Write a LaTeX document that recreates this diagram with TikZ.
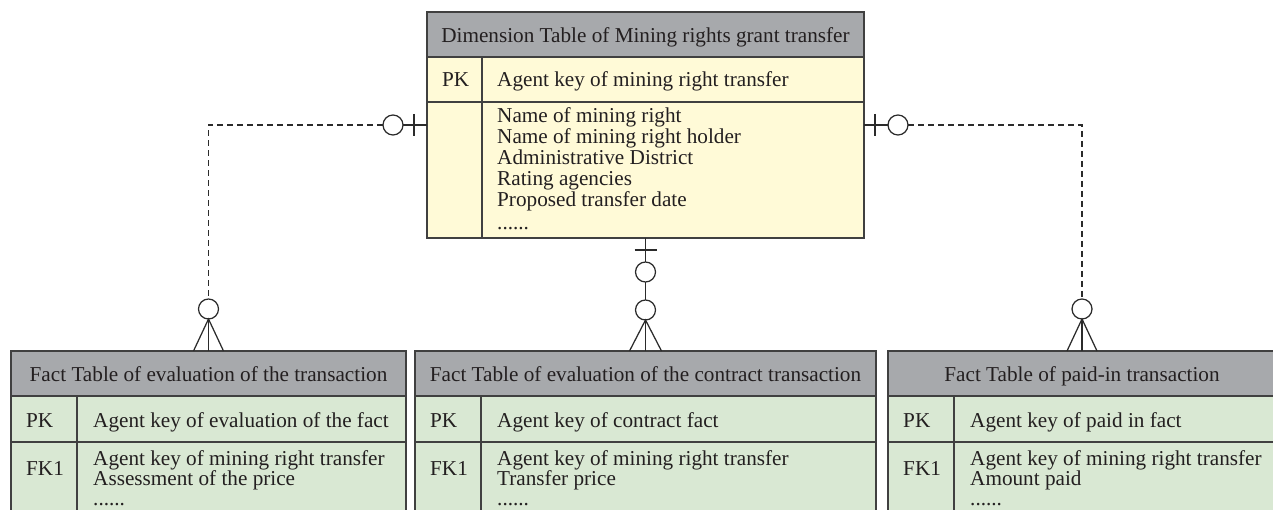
\documentclass[tikz,border=0pt]{standalone}
\usepackage{fontspec}
\setmainfont{Liberation Serif}
\usetikzlibrary{calc,backgrounds}
\definecolor{hdr}{HTML}{A7A9AC}
\definecolor{dimfill}{HTML}{FFFAD7}
\definecolor{factfill}{HTML}{D9E8D3}
\definecolor{bord}{HTML}{404040}
\definecolor{ink}{HTML}{231F20}
\definecolor{lnk}{HTML}{2B2B2B}
\begin{document}
\begin{tikzpicture}[x=1pt,y=-1pt,
  tbl/.style={draw=bord, line width=1.8pt, anchor=north west, inner sep=0pt, outer sep=0pt},
  rule/.style={draw=bord, line width=1.6pt},
  txt/.style={text=ink, font=\fontsize{21.2}{21}\selectfont, inner sep=0pt, anchor=base west},
  ttl/.style={text=ink, font=\fontsize{21.2}{21}\selectfont, inner sep=0pt, anchor=base},
  conn/.style={draw=lnk, line width=1.25pt},
  dashedconn/.style={draw=lnk, line width=1.25pt, dash pattern=on 6pt off 4pt}]
\path[use as bounding box, clip] (0,0) rectangle (1273,510);

% ---------- Dimension table ----------
\node[tbl, minimum width=437pt, minimum height=226pt] (dim) at (427,12) {};
\begin{scope}[on background layer]
  \fill[dimfill] (dim.north west) rectangle (dim.south east);
  \fill[hdr] (dim.north west) rectangle ($(dim.north east)+(0,45)$);
\end{scope}
\draw[rule] ($(dim.north west)+(0,45)$) -- ($(dim.north east)+(0,45)$);
\draw[rule] ($(dim.north west)+(0,90)$) -- ($(dim.north east)+(0,90)$);
\draw[rule] ($(dim.north west)+(55,45)$) -- ($(dim.south west)+(55,0)$);
\node[ttl] (dimt) at ($(dim.north)+(0,31)$) {Dimension Table of Mining rights grant transfer};
\node[txt] (dimpk) at ($(dim.north west)+(15,75)$) {PK};
\node[txt] (dimk) at ($(dim.north west)+(70,75)$) {Agent key of mining right transfer};
\foreach \t [count=\i] in {Name of mining right, Name of mining right holder, Administrative District, Rating agencies, Proposed transfer date}
  \node[txt] (dima\i) at ($(dim.north west)+(70,90+21*\i)$) {\t};
\node[txt] (dimdots) at ($(dim.north west)+(70,218)$) {......};

% ---------- Fact tables ----------
\foreach \n/\x/\w in {f1/11/395, f2/415/461, f3/888/388} {
  \node[tbl, minimum width=\w pt, minimum height=200pt] (\n) at (\x,351) {};
  \begin{scope}[on background layer]
    \fill[factfill] (\n.north west) rectangle (\n.south east);
    \fill[hdr] (\n.north west) rectangle ($(\n.north east)+(0,45)$);
  \end{scope}
  \draw[rule] ($(\n.north west)+(0,45)$) -- ($(\n.north east)+(0,45)$);
  \draw[rule] ($(\n.north west)+(0,91)$) -- ($(\n.north east)+(0,91)$);
  \draw[rule] ($(\n.north west)+(66,45)$) -- ($(\n.south west)+(66,0)$);
  \node[txt] (\n pk) at ($(\n.north west)+(15,76)$) {PK};
  \node[txt] (\n fk) at ($(\n.north west)+(15,124)$) {FK1};
  \node[txt] (\n b) at ($(\n.north west)+(82,114)$) {Agent key of mining right transfer};
  \node[txt] (\n dots) at ($(\n.north west)+(82,154)$) {......};
}
\node[ttl] (f1t) at ($(f1.north)+(0,30)$) {Fact Table of evaluation of the transaction};
\node[ttl] (f2t) at ($(f2.north)+(0,30)$) {Fact Table of evaluation of the contract transaction};
\node[ttl] (f3t) at ($(f3.north)+(0,30)$) {Fact Table of paid-in transaction};
\node[txt] (f1k) at ($(f1.north west)+(82,76)$) {Agent key of evaluation of the fact};
\node[txt] (f2k) at ($(f2.north west)+(82,76)$) {Agent key of contract fact};
\node[txt] (f3k) at ($(f3.north west)+(82,76)$) {Agent key of paid in fact};
\node[txt] (f1c) at ($(f1.north west)+(82,134)$) {Assessment of the price};
\node[txt] (f2c) at ($(f2.north west)+(82,134)$) {Transfer price};
\node[txt] (f3c) at ($(f3.north west)+(82,134)$) {Amount paid};

% ---------- Connectors ----------
% left
\draw[conn] (dim.west) -- ++(-24,0);
\draw[conn] ($(dim.west)+(-13,-11)$) -- ++(0,22);
\draw[conn] ($(dim.west)+(-34,0)$) circle[radius=10];
\draw[dashedconn] ($(dim.west)+(-44,0)$) -| ($(f1.north)+(0,-52)$);
\draw[conn] ($(f1.north)+(0,-42)$) circle[radius=10];
\draw[conn] ($(f1.north)+(-15,0)$) -- ($(f1.north)+(0,-32)$) -- ($(f1.north)+(15,0)$);
\draw[conn] ($(f1.north)+(0,-32)$) -- (f1.north);
% right
\draw[conn] (dim.east) -- ++(24,0);
\draw[conn] ($(dim.east)+(11,-11)$) -- ++(0,22);
\draw[conn] ($(dim.east)+(34,0)$) circle[radius=10];
\draw[dashedconn] ($(dim.east)+(44,0)$) -| ($(f3.north)+(0,-52)$);
\draw[conn] ($(f3.north)+(0,-42)$) circle[radius=10];
\draw[conn] ($(f3.north)+(-15,0)$) -- ($(f3.north)+(0,-32)$) -- ($(f3.north)+(15,0)$);
\draw[conn] ($(f3.north)+(0,-32)$) -- (f3.north);
% center
\draw[conn] (dim.south) -- ++(0,24);
\draw[conn] ($(dim.south)+(-11,12)$) -- ++(22,0);
\draw[conn] ($(dim.south)+(0,34)$) circle[radius=10];
\draw[conn] ($(dim.south)+(0,44)$) -- ($(f2.north)+(0,-51)$);
\draw[conn] ($(f2.north)+(0,-41)$) circle[radius=10];
\draw[conn] ($(f2.north)+(-16,0)$) -- ($(f2.north)+(0,-31)$) -- ($(f2.north)+(16,0)$);
\draw[conn] ($(f2.north)+(0,-31)$) -- (f2.north);
\end{tikzpicture}
\end{document}
